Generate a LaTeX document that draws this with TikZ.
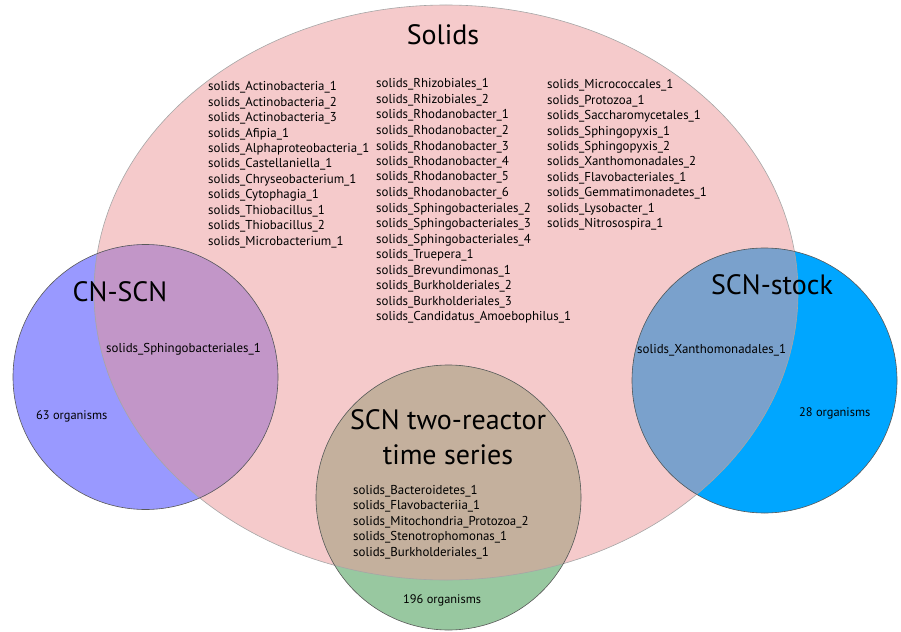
\documentclass[tikz,border=0pt]{standalone}
\usepackage{fontspec}
\setmainfont{PT Sans}
\usepackage{tikz}

\definecolor{solidspink}{RGB}{245,202,203}
\definecolor{cnblue}{RGB}{153,153,255}
\definecolor{cnmix}{RGB}{194,150,200}
\definecolor{stockblue}{RGB}{0,166,255}
\definecolor{stockmix}{RGB}{122,161,204}
\definecolor{seriesgreen}{RGB}{152,200,160}
\definecolor{seriesmix}{RGB}{196,176,157}

\begin{document}
\begin{tikzpicture}[x=1pt,y=-1pt,
    settitle/.style={font=\fontsize{28}{35}\selectfont, inner sep=0pt},
    setname/.style={font=\fontsize{12.9}{15.5}\selectfont, anchor=base west, inner sep=0pt},
    setcount/.style={font=\fontsize{12.4}{15}\selectfont, anchor=base west, inner sep=0pt},
    setedge/.style={draw=black!65, line width=0.6pt}]
    \useasboundingbox (0,0) rectangle (901,631);

    % centres of the sets
    \coordinate (solids) at (446,292.5);
    \coordinate (cnscn) at (145.5,377);
    \coordinate (stock) at (764.5,380.5);
    \coordinate (series) at (448.5,497.5);

    % draw sets
    \fill[solidspink] (solids) ellipse [x radius=352pt, y radius=287.5pt];
    \fill[cnblue] (cnscn) circle [radius=132.5pt];
    \fill[stockblue] (stock) circle [radius=132.5pt];
    \fill[seriesgreen] (series) circle [radius=132.5pt];

    % draw overlaps with solids
    \begin{scope}
        \clip (solids) ellipse [x radius=352pt, y radius=287.5pt];
        \fill[cnmix] (cnscn) circle [radius=132.5pt];
        \fill[stockmix] (stock) circle [radius=132.5pt];
        \fill[seriesmix] (series) circle [radius=132.5pt];
    \end{scope}

    % draw outlines
    \draw[draw=black!35, line width=0.6pt] (solids) ellipse [x radius=352pt, y radius=287.5pt];
    \draw[setedge] (cnscn) circle [radius=132.5pt];
    \draw[setedge] (stock) circle [radius=132.5pt];
    \draw[setedge] (series) circle [radius=132.5pt];

    % draw set titles
    \node[settitle] (solidstitle) at (443,35) {Solids};
    \node[settitle] (cnscntitle) at (120,292) {CN-SCN};
    \node[settitle] (stocktitle) at (772,285) {SCN-stock};
    \node[settitle, align=center] (seriestitle) at (448,437.5) {SCN two-reactor\\time series};

    % draw names only in solids
    \foreach \name [count=\i] in {Actinobacteria\_1, Actinobacteria\_2, Actinobacteria\_3, Afipia\_1,
        Alphaproteobacteria\_1, Castellaniella\_1, Chryseobacterium\_1, Cytophagia\_1,
        Thiobacillus\_1, Thiobacillus\_2, Microbacterium\_1}
        \node[setname] (cola-\i) at (208,91+15.4*\i-15.4) {solids\_\name};
    \foreach \name [count=\i] in {Rhizobiales\_1, Rhizobiales\_2, Rhodanobacter\_1, Rhodanobacter\_2,
        Rhodanobacter\_3, Rhodanobacter\_4, Rhodanobacter\_5, Rhodanobacter\_6,
        Sphingobacteriales\_2, Sphingobacteriales\_3, Sphingobacteriales\_4, Truepera\_1,
        Brevundimonas\_1, Burkholderiales\_2, Burkholderiales\_3, Candidatus\_Amoebophilus\_1}
        \node[setname] (colb-\i) at (376,88+15.5*\i-15.5) {solids\_\name};
    \foreach \name [count=\i] in {Micrococcales\_1, Protozoa\_1, Saccharomycetales\_1, Sphingopyxis\_1,
        Sphingopyxis\_2, Xanthomonadales\_2, Flavobacteriales\_1, Gemmatimonadetes\_1,
        Lysobacter\_1, Nitrosospira\_1}
        \node[setname] (colc-\i) at (547,89+15.4*\i-15.4) {solids\_\name};

    % draw names in the overlaps
    \node[setname] (cnshared) at (106,352) {solids\_Sphingobacteriales\_1};
    \node[setname] (stockshared) at (637,353) {solids\_Xanthomonadales\_1};
    \foreach \name [count=\i] in {Bacteroidetes\_1, Flavobacteriia\_1, Mitochondria\_Protozoa\_2,
        Stenotrophomonas\_1, Burkholderiales\_1}
        \node[setname] (seriesshared-\i) at (353,494+15.5*\i-15.5) {solids\_\name};

    % draw counts
    \node[setcount] (cncount) at (36,419) {63 organisms};
    \node[setcount] (stockcount) at (799,416) {28 organisms};
    \node[setcount] (seriescount) at (403,603) {196 organisms};
\end{tikzpicture}
\end{document}
